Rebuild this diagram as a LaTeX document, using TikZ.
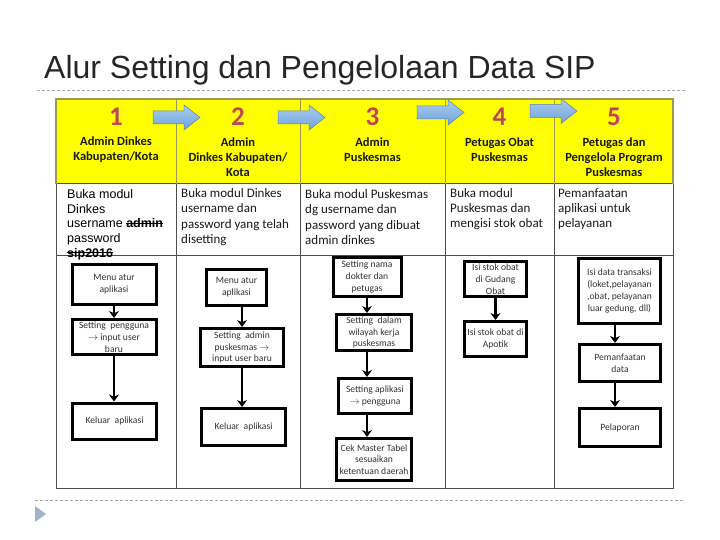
\documentclass[tikz,border=0pt]{standalone}
\usepackage{fontspec}
\setmainfont{Carlito}
\newfontfamily\arialfont{Liberation Sans}
\usetikzlibrary{arrows.meta}
\usetikzlibrary{shadows}
\definecolor{kolomgaris}{HTML}{4D4D4D}
\definecolor{khaki}{HTML}{9C9A50}
\definecolor{kuning}{HTML}{FFFF00}
\definecolor{angka}{HTML}{C0455A}
\definecolor{birumuda}{HTML}{A9CDF0}
\definecolor{birutua}{HTML}{6FA3D8}
\definecolor{segitiga}{HTML}{A3B5CC}
\newcommand{\coret}[1]{\setbox0\hbox{#1}\rlap{\rule[0.3em]{\wd0}{0.9pt}}\box0}
\begin{document}
\begin{tikzpicture}[x=1pt,y=-1pt,
    flowbox/.style={draw=black, line width=3pt, fill=white, align=center,
      inner sep=1pt, font=\fontsize{9.6}{11.8}\selectfont, text=black!80,
      drop shadow={shadow xshift=1.2pt, shadow yshift=-1.2pt, fill=black!30}},
    flowarrow/.style={-{Stealth[length=7pt,width=10pt]}, line width=2.5pt},
    headtxt/.style={align=center, font=\fontsize{12.5}{15}\selectfont\bfseries, text=black!90},
    desctxt/.style={align=left, anchor=west, inner sep=0pt, font=\fontsize{13}{15.3}\selectfont, text=black!90},
    numtxt/.style={font=\fontsize{27}{27}\selectfont\bfseries, text=angka}]
\useasboundingbox (0,0) rectangle (720,540);
% Judul
\node[anchor=base west, inner sep=0pt, font=\arialfont\fontsize{32}{34}\selectfont, text=black!85] (judul) at (44,79) {Alur Setting dan Pengelolaan Data SIP};
\draw[black!35, dashed, dash pattern=on 3pt off 2pt] (37,90) -- (685,90);
\draw[black!35, dashed, dash pattern=on 3pt off 2pt] (35,500) -- (685,500);
\fill[segitiga] (35,506) -- (46,514) -- (35,522) -- cycle;
% Tabel
\fill[kuning] (56,99) rectangle (673,184);
\draw[kolomgaris, line width=1pt] (56,184) rectangle (673,488);
\draw[kolomgaris, line width=1pt] (56,255) -- (673,255);
\foreach \x in {176,300,445,554} {
    \draw[kolomgaris, line width=1pt] (\x,184) -- (\x,488); % garis kolom
    \draw[khaki, line width=1pt] (\x,99) -- (\x,184);
}
\draw[khaki, line width=1.2pt] (56,184) -- (56,99) -- (673,99) -- (673,184);
% Panah biru antar kolom
\foreach \xa/\yc in {153/117.5, 278/117.5, 417/112.5, 530/111} {
    \draw[draw=birutua!80!black, top color=birumuda, bottom color=birutua, line width=0.5pt]
      (\xa,\yc-6.5) -- (\xa+31,\yc-6.5) -- (\xa+31,\yc-12.5) -- (\xa+47,\yc)
      -- (\xa+31,\yc+12.5) -- (\xa+31,\yc+6.5) -- (\xa,\yc+6.5) -- cycle;
}
% Nomor dan judul kolom
\foreach \n/\x in {1/116, 2/238, 3/372.5, 4/499.5, 5/614} {
    \node[numtxt] (n\n) at (\x,117) {\n};
}
\node[headtxt] (h1) at (116,149.5) {Admin Dinkes\\Kabupaten/Kota};
\node[headtxt] (h2) at (238,157) {Admin\\Dinkes Kabupaten/\\Kota};
\node[headtxt] (h3) at (372.5,149.5) {Admin\\Puskesmas};
\node[headtxt] (h4) at (499.5,149.5) {Petugas Obat\\Puskesmas};
\node[headtxt] (h5) at (614,157) {Petugas dan\\Pengelola Program\\Puskesmas};
% Keterangan
\node[desctxt, font=\arialfont\fontsize{12.5}{14.7}\selectfont, text=black] (k1) at (67,224.5)
  {Buka modul\\Dinkes\\username \coret{\textbf{admin}}\\password\\\coret{\textbf{sip2016}}};
\node[desctxt] (k2) at (181,217) {Buka modul Dinkes\\username dan\\password yang telah\\disetting};
\node[desctxt] (k3) at (305,217) {Buka modul Puskesmas\\dg username dan\\password yang dibuat\\admin dinkes};
\node[desctxt] (k4) at (450,209) {Buka modul\\Puskesmas dan\\mengisi stok obat};
\node[desctxt] (k5) at (558,209) {Pemanfaatan\\aplikasi untuk\\pelayanan};
% Kolom 1
\node[flowbox, minimum width=84pt, minimum height=40pt] (a1) at (114,284) {Menu atur\\aplikasi};
\node[flowbox, minimum width=84pt, minimum height=35pt] (a2) at (114,337) {Setting\ \ pengguna\\$\rightarrow$ input user\\baru};
\node[flowbox, minimum width=84pt, minimum height=36pt] (a3) at (114.5,421) {Keluar\ \ aplikasi};
\draw[flowarrow] (a1.south) -- (a1.south |- a2.north);
\draw[flowarrow] (a2.south) -- (a2.south |- a3.north);
% Kolom 2
\node[flowbox, minimum width=60pt, minimum height=36pt] (b1) at (236.5,287.5) {Menu atur\\aplikasi};
\node[flowbox, minimum width=83pt, minimum height=38pt] (b2) at (242,347.5) {Setting\ \ admin\\puskesmas $\rightarrow$\\input user baru};
\node[flowbox, minimum width=84pt, minimum height=37pt] (b3) at (243.5,427) {Keluar\ \ aplikasi};
\draw[flowarrow] (b1.south -| b2.north) -- (b2.north);
\draw[flowarrow] (b2.south) -- (b2.south |- b3.north);
% Kolom 3
\node[flowbox, minimum width=68pt, minimum height=39pt] (c1) at (367,277) {Setting nama\\dokter dan\\petugas};
\node[flowbox, minimum width=75pt, minimum height=36pt] (c2) at (374,332.5) {Setting\ \ dalam\\wilayah kerja\\puskesmas};
\node[flowbox, minimum width=73pt, minimum height=35pt] (c3) at (375,396) {Setting aplikasi\\$\rightarrow$ pengguna};
\node[flowbox, minimum width=75pt, minimum height=42pt] (c4) at (374,459.5) {Cek Master Tabel\\sesuaikan\\ketentuan daerah};
\draw[flowarrow] (c1.south) -- (c1.south |- c2.north);
\draw[flowarrow] (c1.south |- c2.south) -- (c1.south |- c3.north);
\draw[flowarrow] (c1.south |- c3.south) -- (c1.south |- c4.north);
% Kolom 4
\node[flowbox, minimum width=62pt, minimum height=35pt] (d1) at (495.5,279) {Isi stok obat\\di Gudang\\Obat};
\node[flowbox, minimum width=62pt, minimum height=35pt] (d2) at (495.5,339) {Isi stok obat di\\Apotik};
\draw[flowarrow] (d1.south) -- (d1.south |- d2.north);
% Kolom 5
\coordinate (p5) at (615,0);
\node[flowbox, minimum width=82pt, minimum height=65pt] (e1) at (619.5,291) {Isi data transaksi\\(loket,pelayanan\\,obat, pelayanan\\luar gedung, dll)};
\node[flowbox, minimum width=81pt, minimum height=37pt] (e2) at (620,363) {Pemanfaatan\\data};
\node[flowbox, minimum width=81pt, minimum height=38pt] (e3) at (620,427.5) {Pelaporan};
\draw[flowarrow] (e1.south -| p5) -- (e2.north -| p5);
\draw[flowarrow] (e2.south -| p5) -- (e3.north -| p5);
\end{tikzpicture}
\end{document}
